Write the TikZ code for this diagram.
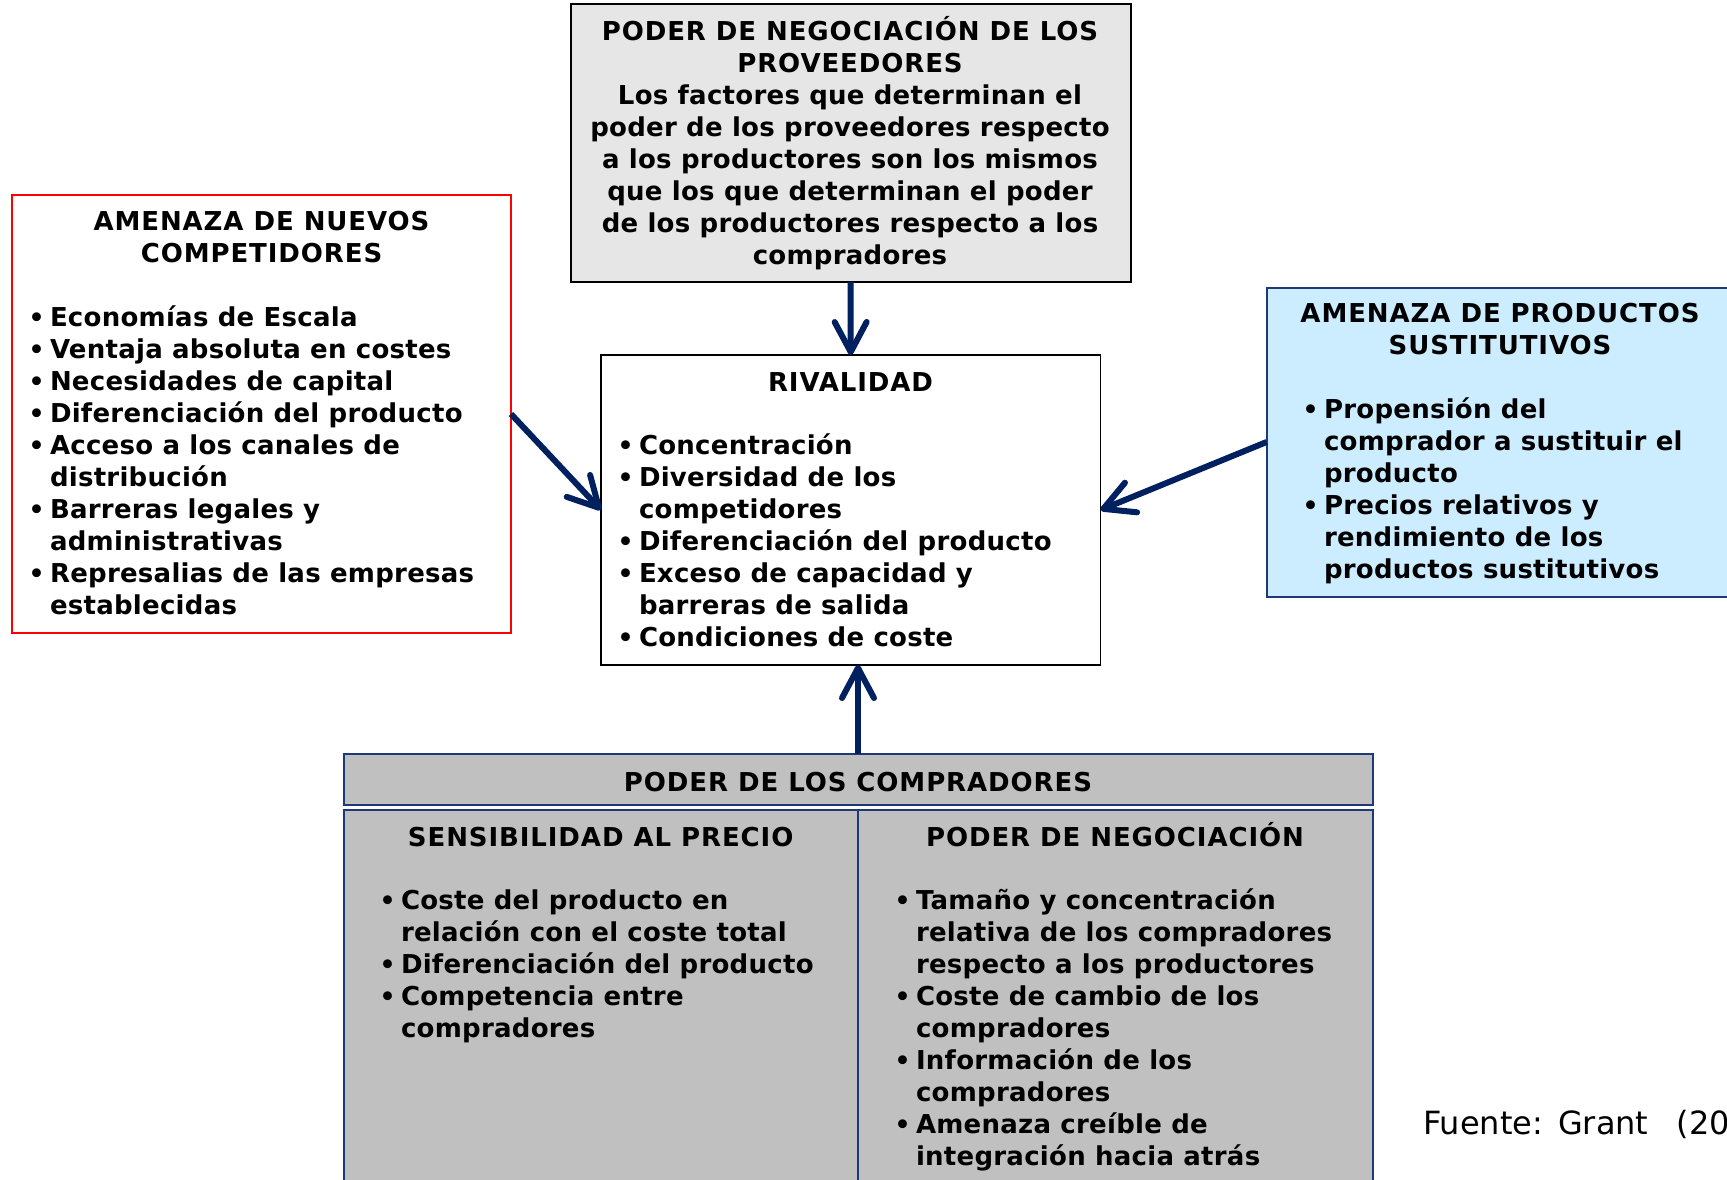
\documentclass[tikz,border=0pt]{standalone}
\usepackage{fontspec}
\setmainfont{DejaVu Sans}
\newfontfamily\vfont[LetterSpace=1]{DejaVu Sans}
\newfontfamily\vtfont[LetterSpace=3.5]{DejaVu Sans}
\usetikzlibrary{arrows.meta,calc}
\definecolor{arrnavy}{RGB}{0,32,96}
\definecolor{edgeblue}{RGB}{31,56,120}
\definecolor{lightblue}{RGB}{204,236,255}
\definecolor{topgray}{RGB}{230,230,230}
\definecolor{midgray}{RGB}{192,192,192}
\newcommand{\bl}{\makebox[18pt][l]{\hspace{-3.5pt}{\fontsize{25}{32}\selectfont\textbullet}}}
\newcommand{\ttl}[1]{{\vtfont\bfseries #1}}
\tikzset{
  boxnode/.style={anchor=north west, inner sep=0pt, outer sep=0pt},
  txt/.style={inner sep=0pt, outer sep=0pt, font=\vfont\bfseries\fontsize{26}{32}\selectfont},
  ttxt/.style={inner sep=0pt, outer sep=0pt, font=\vtfont\bfseries\fontsize{26}{32}\selectfont},
  arr/.style={draw=arrnavy, line width=6pt,
    -{Straight Barb[length=30pt, width=32pt, line cap=round, line join=round]}},
}
\begin{document}
\begin{tikzpicture}[x=1pt, y=-1pt]
\useasboundingbox (0,0) rectangle (1727,1180);
\clip (0,0) rectangle (1727,1180);
\fill[white] (0,0) rectangle (1727,1180);

% boxes
\node[boxnode, draw=black, line width=2pt, fill=topgray, minimum width=560pt, minimum height=277.5pt] (topbox) at (570.5,4.5) {};
\node[boxnode, draw=red, line width=1.5pt, fill=white, minimum width=499pt, minimum height=438pt] (lbox) at (12,195) {};
\node[boxnode, draw=black, line width=1.5pt, fill=white, minimum width=499.5pt, minimum height=310pt] (riv) at (601,355) {};
\node[boxnode, draw=edgeblue, line width=2pt, fill=lightblue, minimum width=470pt, minimum height=309pt] (rbox) at (1266.6,287.5) {};
\node[boxnode, draw=edgeblue, line width=2pt, fill=midgray, minimum width=1029pt, minimum height=51pt] (hdr) at (343.5,754) {};
\node[boxnode, draw=edgeblue, line width=2pt, fill=midgray, minimum width=514.5pt, minimum height=420pt] (lp) at (343.5,809.5) {};
\node[boxnode, draw=edgeblue, line width=2pt, fill=midgray, minimum width=514.5pt, minimum height=420pt] (rp) at (858,809.5) {};

% top box text
\node[txt, anchor=base] (toptext) at (850,41) {\begin{tabular}[t]{@{}c@{}}
\ttl{PODER DE NEGOCIACIÓN DE LOS}\\
\ttl{PROVEEDORES}\\
Los factores que determinan el\\
poder de los proveedores respecto\\
a los productores son los mismos\\
que los que determinan el poder\\
de los productores respecto a los\\
compradores\end{tabular}};

% left box
\node[ttxt, anchor=base] (ltitle) at (261.5,230.7) {\begin{tabular}[t]{@{}c@{}}
AMENAZA DE NUEVOS\\ COMPETIDORES\end{tabular}};
\node[txt, anchor=base west] (llist) at (32,326.7) {\begin{tabular}[t]{@{}l@{}l@{}}
\bl & Economías de Escala\\
\bl & Ventaja absoluta en costes\\
\bl & Necesidades de capital\\
\bl & Diferenciación del producto\\
\bl & Acceso a los canales de\\
    & distribución\\
\bl & Barreras legales y\\
    & administrativas\\
\bl & Represalias de las empresas\\
    & establecidas\end{tabular}};

% rivalidad
\node[ttxt, anchor=base] (rivtitle) at (850.5,391) {RIVALIDAD};
\node[txt, anchor=base west] (rivlist) at (621,454.3) {\begin{tabular}[t]{@{}l@{}l@{}}
\bl & Concentración\\
\bl & Diversidad de los\\
    & competidores\\
\bl & Diferenciación del producto\\
\bl & Exceso de capacidad y\\
    & barreras de salida\\
\bl & Condiciones de coste\end{tabular}};

% right box
\node[ttxt, anchor=base] (rtitle) at (1500,322.7) {\begin{tabular}[t]{@{}c@{}}
AMENAZA DE PRODUCTOS\\ SUSTITUTIVOS\end{tabular}};
\node[txt, anchor=base west] (rlist) at (1306,418.5) {\begin{tabular}[t]{@{}l@{}l@{}}
\bl & Propensión del\\
    & comprador a sustituir el\\
    & producto\\
\bl & Precios relativos y\\
    & rendimiento de los\\
    & productos sustitutivos\end{tabular}};

% bottom
\node[ttxt, anchor=base] (hdrtext) at (858,791.7) {PODER DE LOS COMPRADORES};
\node[ttxt, anchor=base] (lptitle) at (600.7,846) {SENSIBILIDAD AL PRECIO};
\node[txt, anchor=base west] (lplist) at (383,909.3) {\begin{tabular}[t]{@{}l@{}l@{}}
\bl & Coste del producto en\\
    & relación con el coste total\\
\bl & Diferenciación del producto\\
\bl & Competencia entre\\
    & compradores\end{tabular}};
\node[ttxt, anchor=base] (rptitle) at (1115,846) {PODER DE NEGOCIACIÓN};
\node[txt, anchor=base west] (rplist) at (898,909.3) {\begin{tabular}[t]{@{}l@{}l@{}}
\bl & Tamaño y concentración\\
    & relativa de los compradores\\
    & respecto a los productores\\
\bl & Coste de cambio de los\\
    & compradores\\
\bl & Información de los\\
    & compradores\\
\bl & Amenaza creíble de\\
    & integración hacia atrás\end{tabular}};

% source
\node[inner sep=0pt, anchor=base west, font=\fontsize{32}{38}\selectfont] (fuente) at (1423,1134) {Fuente:\hspace{15pt}Grant\hspace{28pt}(20};

% arrows
\draw[arr] (topbox.south) -- (riv.north);
\draw[arr] (lbox.east) -- (riv.west);
\draw[arr] (rbox.west) -- (riv.east);
\draw[arr] (hdr.north) -- (hdr.north |- riv.south);
\end{tikzpicture}
\end{document}
